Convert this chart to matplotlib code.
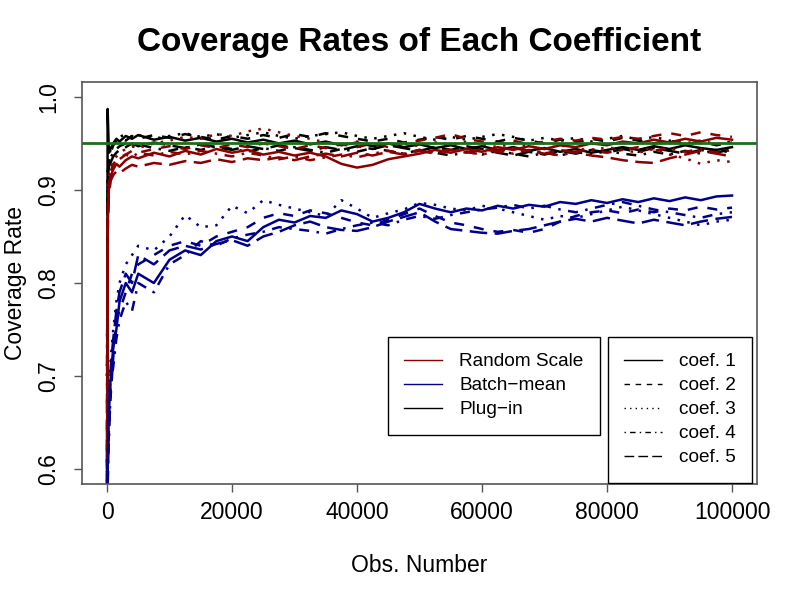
import matplotlib
matplotlib.use("Agg")
import matplotlib.pyplot as plt
from matplotlib.lines import Line2D

plt.rcParams["font.family"] = ["Liberation Sans", "DejaVu Sans"]

obs = [0, 100, 300, 600, 1000, 1500, 2000, 3000, 4000,
       5000, 7500, 10000, 12500, 15000, 17500, 20000, 22500, 25000, 27500,
       30000, 32500, 35000, 37500, 40000, 42500, 45000, 47500, 50000, 52500,
       55000, 57500, 60000, 62500, 65000, 67500, 70000, 72500, 75000, 77500,
       80000, 82500, 85000, 87500, 90000, 92500, 95000, 97500, 100000]

# Random Scale, coef. 1..5
rs_1 = [0.55, 0.86, 0.90, 0.915, 0.922, 0.928, 0.925, 0.932, 0.936, 0.934, 0.940, 0.936,
        0.942, 0.938, 0.944, 0.940, 0.943, 0.938, 0.941, 0.937, 0.940, 0.936, 0.928, 0.924,
        0.927, 0.933, 0.936, 0.939, 0.943, 0.940, 0.944, 0.941, 0.946, 0.943, 0.947, 0.944,
        0.948, 0.946, 0.950, 0.948, 0.952, 0.950, 0.954, 0.951, 0.955, 0.952, 0.956, 0.954]
rs_2 = [0.62, 0.88, 0.91, 0.92, 0.928, 0.932, 0.935, 0.938, 0.942, 0.940, 0.944, 0.947,
        0.944, 0.948, 0.945, 0.949, 0.946, 0.950, 0.947, 0.944, 0.948, 0.945, 0.949, 0.946,
        0.950, 0.947, 0.951, 0.953, 0.956, 0.960, 0.955, 0.952, 0.950, 0.953, 0.949, 0.952,
        0.955, 0.953, 0.956, 0.954, 0.957, 0.955, 0.958, 0.961, 0.958, 0.962, 0.959, 0.957]
rs_3 = [0.70, 0.89, 0.915, 0.925, 0.93, 0.936, 0.94, 0.944, 0.947, 0.945, 0.950, 0.953,
        0.957, 0.955, 0.960, 0.958, 0.963, 0.966, 0.962, 0.958, 0.955, 0.951, 0.948, 0.952,
        0.949, 0.946, 0.950, 0.947, 0.951, 0.948, 0.952, 0.949, 0.946, 0.950, 0.947, 0.944,
        0.948, 0.945, 0.942, 0.946, 0.943, 0.940, 0.944, 0.938, 0.934, 0.928, 0.932, 0.930]
rs_4 = [0.66, 0.87, 0.905, 0.918, 0.925, 0.93, 0.933, 0.938, 0.935, 0.940, 0.937, 0.941,
        0.938, 0.942, 0.939, 0.936, 0.940, 0.937, 0.933, 0.936, 0.932, 0.935, 0.938, 0.935,
        0.939, 0.942, 0.939, 0.943, 0.940, 0.944, 0.941, 0.938, 0.942, 0.939, 0.943, 0.940,
        0.937, 0.941, 0.944, 0.940, 0.943, 0.946, 0.942, 0.945, 0.941, 0.944, 0.940, 0.943]
rs_5 = [0.58, 0.85, 0.895, 0.91, 0.916, 0.92, 0.918, 0.923, 0.927, 0.925, 0.929, 0.927,
        0.931, 0.929, 0.933, 0.930, 0.934, 0.932, 0.935, 0.932, 0.936, 0.939, 0.936, 0.940,
        0.937, 0.941, 0.938, 0.942, 0.939, 0.943, 0.940, 0.944, 0.941, 0.945, 0.942, 0.939,
        0.943, 0.940, 0.937, 0.935, 0.932, 0.930, 0.929, 0.934, 0.938, 0.942, 0.939, 0.936]

# Batch-mean, coef. 1..5
bm_1 = [0.45, 0.60, 0.66, 0.70, 0.73, 0.75, 0.78, 0.80, 0.79, 0.81, 0.80, 0.825,
        0.835, 0.83, 0.845, 0.85, 0.845, 0.86, 0.868, 0.865, 0.872, 0.870, 0.878, 0.874,
        0.866, 0.870, 0.876, 0.885, 0.880, 0.876, 0.880, 0.878, 0.883, 0.880, 0.884, 0.882,
        0.887, 0.885, 0.889, 0.886, 0.890, 0.887, 0.891, 0.888, 0.892, 0.889, 0.893, 0.894]
bm_2 = [0.42, 0.59, 0.64, 0.68, 0.72, 0.76, 0.77, 0.79, 0.81, 0.82, 0.83, 0.84,
        0.845, 0.84, 0.85, 0.855, 0.86, 0.87, 0.875, 0.872, 0.878, 0.875, 0.870, 0.865,
        0.862, 0.868, 0.874, 0.880, 0.872, 0.865, 0.862, 0.858, 0.855, 0.857, 0.854, 0.858,
        0.866, 0.872, 0.876, 0.878, 0.875, 0.879, 0.876, 0.880, 0.878, 0.882, 0.879, 0.881]
bm_3 = [0.50, 0.62, 0.68, 0.72, 0.75, 0.78, 0.80, 0.82, 0.83, 0.84, 0.835, 0.85,
        0.873, 0.86, 0.862, 0.883, 0.875, 0.889, 0.884, 0.880, 0.876, 0.872, 0.889, 0.880,
        0.870, 0.875, 0.879, 0.886, 0.884, 0.880, 0.878, 0.883, 0.880, 0.876, 0.872, 0.868,
        0.872, 0.870, 0.874, 0.878, 0.882, 0.878, 0.874, 0.870, 0.866, 0.862, 0.866, 0.868]
bm_4 = [0.40, 0.58, 0.63, 0.69, 0.71, 0.74, 0.76, 0.78, 0.77, 0.80, 0.79, 0.82,
        0.83, 0.845, 0.84, 0.848, 0.852, 0.855, 0.86, 0.858, 0.856, 0.853, 0.858, 0.862,
        0.865, 0.862, 0.868, 0.872, 0.869, 0.873, 0.876, 0.879, 0.881, 0.884, 0.880, 0.883,
        0.879, 0.876, 0.880, 0.884, 0.887, 0.883, 0.879, 0.876, 0.873, 0.870, 0.874, 0.876]
bm_5 = [0.44, 0.60, 0.65, 0.71, 0.74, 0.77, 0.79, 0.81, 0.80, 0.83, 0.82, 0.835,
        0.84, 0.836, 0.842, 0.846, 0.84, 0.85, 0.855, 0.862, 0.866, 0.86, 0.857, 0.856,
        0.86, 0.866, 0.871, 0.876, 0.866, 0.858, 0.856, 0.854, 0.853, 0.856, 0.858, 0.862,
        0.866, 0.869, 0.866, 0.870, 0.867, 0.864, 0.868, 0.865, 0.862, 0.866, 0.869, 0.871]

# Plug-in, coef. 1..5
pi_1 = [0.40, 0.987, 0.94, 0.945, 0.95, 0.955, 0.952, 0.958, 0.955, 0.959, 0.954, 0.957,
        0.953, 0.956, 0.952, 0.955, 0.951, 0.954, 0.950, 0.953, 0.949, 0.952, 0.948, 0.951,
        0.947, 0.950, 0.946, 0.949, 0.945, 0.948, 0.944, 0.947, 0.943, 0.946, 0.942, 0.945,
        0.941, 0.944, 0.940, 0.943, 0.946, 0.943, 0.947, 0.944, 0.948, 0.945, 0.943, 0.946]
pi_2 = [0.60, 0.90, 0.93, 0.94, 0.948, 0.952, 0.956, 0.953, 0.958, 0.955, 0.959, 0.956,
        0.960, 0.957, 0.954, 0.958, 0.955, 0.959, 0.956, 0.960, 0.957, 0.961, 0.958, 0.955,
        0.952, 0.955, 0.951, 0.954, 0.957, 0.954, 0.958, 0.955, 0.952, 0.956, 0.953, 0.950,
        0.954, 0.951, 0.955, 0.952, 0.956, 0.953, 0.950, 0.953, 0.949, 0.952, 0.948, 0.951]
pi_3 = [0.50, 0.92, 0.935, 0.945, 0.95, 0.953, 0.957, 0.960, 0.956, 0.959, 0.955, 0.958,
        0.961, 0.957, 0.960, 0.956, 0.959, 0.962, 0.958, 0.955, 0.958, 0.960, 0.962, 0.958,
        0.955, 0.958, 0.961, 0.957, 0.954, 0.957, 0.954, 0.957, 0.960, 0.957, 0.953, 0.956,
        0.953, 0.956, 0.952, 0.955, 0.958, 0.954, 0.957, 0.953, 0.950, 0.953, 0.949, 0.952]
pi_4 = [0.70, 0.91, 0.925, 0.935, 0.94, 0.944, 0.947, 0.950, 0.946, 0.949, 0.945, 0.942,
        0.946, 0.943, 0.947, 0.944, 0.941, 0.945, 0.942, 0.946, 0.943, 0.940, 0.944, 0.941,
        0.945, 0.942, 0.939, 0.943, 0.940, 0.937, 0.941, 0.938, 0.942, 0.939, 0.936, 0.940,
        0.937, 0.941, 0.938, 0.942, 0.939, 0.937, 0.941, 0.938, 0.942, 0.939, 0.943, 0.940]
pi_5 = [0.55, 0.89, 0.92, 0.93, 0.936, 0.94, 0.943, 0.946, 0.950, 0.947, 0.951, 0.948,
        0.945, 0.949, 0.946, 0.943, 0.947, 0.944, 0.948, 0.945, 0.942, 0.946, 0.943, 0.947,
        0.944, 0.948, 0.945, 0.942, 0.946, 0.943, 0.947, 0.944, 0.940, 0.937, 0.941, 0.938,
        0.942, 0.939, 0.943, 0.940, 0.944, 0.941, 0.945, 0.942, 0.939, 0.943, 0.940, 0.944]

methods = ["Random Scale", "Batch\u2212mean", "Plug\u2212in"]
coef_labels = ["coef. 1", "coef. 2", "coef. 3", "coef. 4", "coef. 5"]
target = 0.95

colors = {"Random Scale": "#8B0000", "Batch\u2212mean": "#00008B", "Plug\u2212in": "black"}
styles = ["-", (0, (4, 4)), (0, (1, 3)), (0, (1, 3, 4, 3)), (0, (7, 3))]

fig = plt.figure(figsize=(8, 6), dpi=100)
ax = fig.add_axes([82 / 800, 116 / 600, 675 / 800, 402 / 600])

# draw order: plug-in, random scale, batch-mean
for name, series in (
    ("Plug\u2212in", [pi_1, pi_2, pi_3, pi_4, pi_5]),
    ("Random Scale", [rs_1, rs_2, rs_3, rs_4, rs_5]),
    ("Batch\u2212mean", [bm_1, bm_2, bm_3, bm_4, bm_5]),
):
    for vals, ls in zip(series, styles):
        assert len(vals) == len(obs)
        ax.plot(obs, vals, color=colors[name], linestyle=ls, linewidth=1.8)

ax.axhline(target, color="#1b6f1b", linewidth=2)

ax.set_xlim(-4000, 104000)
ax.set_ylim(0.584, 1.016)
ax.set_xticks([0, 20000, 40000, 60000, 80000, 100000])
ax.set_xticklabels(["0", "20000", "40000", "60000", "80000", "100000"])
ax.set_yticks([0.6, 0.7, 0.8, 0.9, 1.0])
ax.set_yticklabels(["0.6", "0.7", "0.8", "0.9", "1.0"], rotation=90, va="center")
ax.tick_params(axis="both", direction="out", length=6, width=1, color="#555555",
               labelsize=16.5)
ax.tick_params(axis="x", pad=6)
ax.tick_params(axis="y", pad=10)
for sp in ax.spines.values():
    sp.set_color("#555555")
    sp.set_linewidth(1.2)

fig.text(419.5 / 800, 1 - 42 / 600, "Coverage Rates of Each Coefficient",
         ha="center", va="center", fontsize=24, fontweight="bold")
fig.text(419.5 / 800, 1 - 565 / 600, "Obs. Number", ha="center", va="center",
         fontsize=16.5)
fig.text(16 / 800, 1 - 283 / 600, "Coverage Rate", ha="center", va="center",
         rotation=90, fontsize=16.5)

leg_opts = dict(loc="upper left", bbox_transform=fig.transFigure, fontsize=13.7,
                fancybox=False, framealpha=1, edgecolor="black", handlelength=2.0,
                handletextpad=0.9, borderpad=0.85, labelspacing=0.35, borderaxespad=0)

h1 = [Line2D([], [], color=colors[m], linewidth=1) for m in methods]
leg1 = ax.legend(h1, methods, bbox_to_anchor=(388 / 800, 1 - 337 / 600), **leg_opts)
leg1.get_frame().set_linewidth(1)
ax.add_artist(leg1)

h2 = [Line2D([], [], color="black", linestyle=ls, linewidth=1) for ls in styles]
leg2 = ax.legend(h2, coef_labels, bbox_to_anchor=(608 / 800, 1 - 337 / 600), **leg_opts)
leg2.get_frame().set_linewidth(1)

fig.savefig("out.png", dpi=100, facecolor="white")
